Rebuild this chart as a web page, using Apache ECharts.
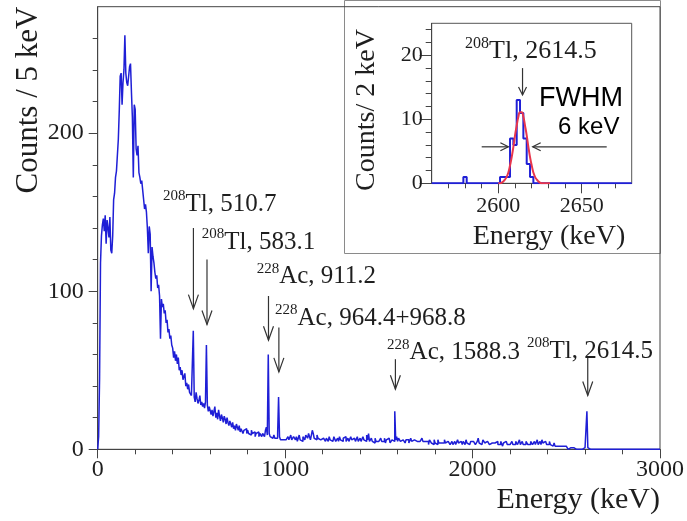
<!DOCTYPE html>
<html>
<head>
<meta charset="utf-8">
<script src="https://cdn.jsdelivr.net/npm/echarts@6/dist/echarts.min.js"></script>
<style>
  html, body { margin: 0; padding: 0; background: #fff; }
  #chart { width: 687px; height: 521px; }
</style>
</head>
<body>
<div id="chart"></div>
<script>
// ---- Spectrum: counts per 5 keV bin, bin starts at 0, 5, 10, ... keV ----
const BIN_KEV = 5;
const counts0to495 = [
  0, 8, 45, 118, 135, 142, 146, 138, 148, 130, 145, 140, 134, 147, 126, 124, 135, 158, 162, 172,
  176, 186, 196, 214, 236, 238, 218, 232, 240, 262, 238, 232, 230, 231, 242, 244, 226, 210, 172, 218,
  215, 190, 186, 192, 175, 172, 168, 170, 164, 158, 152, 155, 150, 140, 124, 141, 136, 100, 128, 122,
  118, 112, 108, 110, 102, 104, 97, 70, 95, 90, 92, 86, 88, 80, 82, 74, 76, 70, 72, 66,
  64, 58, 62, 56, 60, 54, 58, 50, 52, 47, 50, 44, 46, 48, 40, 42, 38, 41, 36, 37
];
const counts500to995 = [
  34, 35, 75, 33, 30, 36, 32, 29, 31, 34, 28, 30, 27, 29, 26, 30, 66, 28, 24, 27,
  26, 22, 25, 21, 24, 27, 20, 23, 19, 25, 21, 18, 22, 20, 17, 21, 19, 16, 20, 17,
  15, 18, 16, 14, 17, 13, 15, 12, 16, 14, 12, 15, 11, 13, 14, 10, 12, 11, 13, 10,
  12, 10, 11, 9, 12, 10, 9, 11, 8, 10, 9, 11, 8, 10, 9, 8, 10, 9, 8, 12,
  14, 9, 60, 10, 8, 9, 7, 8, 9, 7, 8, 7, 10, 33, 8, 6, 7, 6, 7, 5
];
const counts1000to1995 = [
  6, 7, 5, 8, 6, 7, 9, 6, 5, 8, 7, 6, 8, 5, 7, 9, 6, 7, 5, 8,
  7, 6, 9, 8, 7, 10, 8, 6, 9, 12, 10, 7, 8, 6, 9, 7, 8, 6, 7, 5,
  7, 6, 8, 5, 7, 6, 5, 8, 6, 7, 5, 6, 8, 7, 5, 6, 7, 5, 8, 6,
  6, 5, 7, 6, 8, 5, 6, 7, 5, 6, 8, 6, 5, 7, 6, 5, 6, 8, 5, 6,
  7, 5, 6, 8, 6, 7, 5, 9, 6, 10, 5, 6, 7, 5, 6, 4, 7, 5, 6, 5,
  6, 4, 7, 5, 6, 5, 7, 4, 6, 5, 7, 6, 4, 5, 6, 7, 5, 24, 6, 8,
  5, 7, 6, 5, 4, 6, 5, 7, 4, 6, 5, 6, 4, 5, 7, 5, 4, 6, 5, 6,
  5, 4, 6, 5, 4, 6, 7, 5, 4, 5, 6, 4, 5, 3, 6, 5, 4, 5, 3, 6,
  4, 5, 3, 6, 4, 5, 4, 3, 5, 4, 6, 4, 3, 5, 4, 5, 3, 4, 5, 3,
  4, 5, 3, 4, 6, 4, 3, 5, 4, 3, 5, 4, 3, 6, 4, 5, 3, 4, 5, 4
];
const counts2000to2995 = [
  5, 4, 6, 3, 4, 5, 7, 4, 5, 3, 4, 6, 5, 4, 3, 5, 4, 6, 3, 4,
  4, 3, 5, 4, 3, 4, 5, 3, 4, 3, 5, 4, 2, 4, 3, 5, 4, 3, 4, 3,
  3, 4, 5, 3, 4, 3, 5, 4, 3, 4, 6, 3, 4, 5, 3, 4, 3, 5, 4, 3,
  4, 3, 5, 4, 3, 4, 5, 3, 4, 6, 3, 4, 5, 3, 6, 4, 3, 5, 4, 3,
  4, 3, 5, 3, 4, 2, 3, 4, 2, 3, 2, 3, 1, 2, 2, 1, 2, 1, 1, 2,
  1, 1, 0, 1, 1, 0, 1, 1, 0, 1, 0, 1, 1, 0, 0, 1, 0, 1, 0, 1,
  0, 0, 24, 1, 0, 0, 0, 0, 0, 0, 0, 0, 0, 0, 0, 0, 0, 0, 0, 0,
  0, 0, 0, 0, 0, 0, 0, 0, 0, 0, 0, 0, 0, 0, 0, 0, 0, 0, 0, 0,
  0, 0, 0, 0, 0, 0, 0, 0, 0, 0, 0, 0, 0, 0, 0, 0, 0, 0, 0, 0,
  0, 0, 0, 0, 0, 0, 0, 0, 0, 0, 0, 0, 0, 0, 0, 0, 0, 0, 0, 0
];

// ---- Inset: 2 keV bins around the 2614.5 keV line ----
const INSET_BIN_KEV = 2;
const insetFirstBin = 2561;
const insetCounts = [
  0, 0, 0, 0, 0, 0, 0, 0, 0, 1,          // 2561 .. 2579
  0, 0, 0, 0, 0, 0, 0, 0, 0, 0,          // 2581 .. 2599
  1, 1, 1, 7, 6, 13, 11, 7, 3, 1,        // 2601 .. 2619
  0, 0, 0, 0, 0, 0, 0, 0, 0, 0,          // 2621 .. 2639
  0, 0, 0, 0, 0, 0, 0, 0, 0, 0,          // 2641 .. 2659
  0, 0, 0, 0, 0, 0, 0, 0, 0, 0           // 2661 .. 2679
];
// Gaussian fit drawn over the peak (energy keV, counts)
const fitEnergy = [2600, 2601, 2602, 2603, 2604, 2605, 2606, 2607, 2608, 2609, 2610, 2611, 2612, 2613, 2614,
  2615, 2616, 2617, 2618, 2619, 2620, 2621, 2622, 2623, 2624, 2625, 2626, 2628, 2631];
const fitCounts = [0, 0, 0.1, 0.3, 0.6, 1.0, 1.7, 2.8, 4.1, 5.7, 7.5, 9.0, 10.4, 11.1, 11.1,
  10.4, 9.0, 7.5, 5.7, 4.1, 2.8, 1.7, 1.0, 0.6, 0.3, 0.1, 0, 0, 0];

// ---- Axis ticks ----
const mainXMinorTicks = [0, 200, 400, 600, 800, 1000, 1200, 1400, 1600, 1800, 2000, 2200, 2400, 2600, 2800, 3000];
const mainXMajorTicks = [0, 1000, 2000, 3000];
const mainYMinorTicks = [0, 20, 40, 60, 80, 100, 120, 140, 160, 180, 200, 220, 240, 260];
const mainYMajorTicks = [0, 100, 200];
const insetXMinorTicks = [2570, 2580, 2590, 2600, 2610, 2620, 2630, 2640, 2650, 2660, 2670];
const insetXMajorTicks = [2600, 2650];
const insetYMinorTicks = [0, 2, 4, 6, 8, 10, 12, 14, 16, 18, 20, 22, 24];
const insetYMajorTicks = [0, 10, 20];

// ---- Line identifications ----
const lineMass = ['208', '208', '228', '228', '228', '208'];
const lineName = ['Tl, 510.7', 'Tl, 583.1', 'Ac, 911.2', 'Ac, 964.4+968.8', 'Ac, 1588.3', 'Tl, 2614.5'];
const lineEnergy = [510.7, 583.1, 911.2, 966.6, 1588.3, 2614.5];

// where each identification label and arrow sit (data units of the main plot)
const lineLayout = [
  { lx: 348,  ly: 156, top: 140, tip: 89 },
  { lx: 555,  ly: 132, top: 120, tip: 79 },
  { lx: 848,  ly: 110, top: 97,  tip: 69 },
  { lx: 946,  ly: 84,  top: 77,  tip: 49 },
  { lx: 1544, ly: 62,  top: 57,  tip: 38 },
  { lx: 2290, ly: 63,  top: 58,  tip: 34 }
];

const SERIF = 'Liberation Serif';
const SANS = 'Liberation Sans';
const BLUE = '#1f1fd6';
const RED = '#e8364c';
const INK = '#1e1e1e';

function histogram(start, width, values) {
  const pts = [];
  values.forEach((v, i) => pts.push([start + i * width, v]));
  pts.push([start + values.length * width, values[values.length - 1]]);
  return pts;
}

const mainCounts = counts0to495.concat(counts500to995, counts1000to1995, counts2000to2995);
const mainData = histogram(0, BIN_KEV, mainCounts);
const insetData = [[2560, 0]].concat(histogram(insetFirstBin, INSET_BIN_KEV, insetCounts));
insetData[insetData.length - 1][0] = 2680;
const fitData = fitEnergy.map((e, i) => [e, fitCounts[i]]);

function arrowSeries(xi, yi, segs, headLen, headHalf, lw) {
  return {
    type: 'custom', xAxisIndex: xi, yAxisIndex: yi, silent: true, z: 20, clip: false,
    data: segs,
    renderItem(params, api) {
      const a = api.coord([api.value(0), api.value(1)]);
      const b = api.coord([api.value(2), api.value(3)]);
      const dx = b[0] - a[0], dy = b[1] - a[1];
      const L = Math.hypot(dx, dy) || 1;
      const ux = dx / L, uy = dy / L, px = -uy, py = ux;
      const st = { stroke: '#333', lineWidth: lw, fill: null };
      return {
        type: 'group', children: [
          { type: 'line', shape: { x1: a[0], y1: a[1], x2: b[0], y2: b[1] }, style: st },
          { type: 'polyline', shape: { points: [
            [b[0] - ux * headLen + px * headHalf, b[1] - uy * headLen + py * headHalf],
            [b[0], b[1]],
            [b[0] - ux * headLen - px * headHalf, b[1] - uy * headLen - py * headHalf]
          ] }, style: st }
        ]
      };
    }
  };
}

function labelSeries(xi, yi, points, texts, rich, family, size) {
  return {
    type: 'custom', xAxisIndex: xi, yAxisIndex: yi, silent: true, z: 20, clip: false,
    data: points,
    renderItem(params, api) {
      const p = api.coord([api.value(0), api.value(1)]);
      return {
        type: 'text', x: p[0], y: p[1],
        style: { text: texts[params.dataIndex], rich: rich, fontFamily: family, fontSize: size,
                 align: 'left', verticalAlign: 'middle', fill: INK }
      };
    }
  };
}

const isoRich = {
  s: { fontFamily: SERIF, fontSize: 15, fill: INK, verticalAlign: 'top', lineHeight: 28 },
  m: { fontFamily: SERIF, fontSize: 25, fill: INK, verticalAlign: 'bottom', lineHeight: 28 }
};

const chart = echarts.init(document.getElementById('chart'), null, { renderer: 'canvas' });

function valueAxis(grid, pos, min, max, ticks, labels, tickLen, fontSize, margin, showLine) {
  return {
    type: 'value', gridIndex: grid, position: pos, min: min, max: max,
    splitLine: { show: false },
    axisLine: { show: showLine, onZero: false, lineStyle: { color: '#444', width: 1 } },
    axisTick: { show: true, length: tickLen, customValues: ticks, lineStyle: { color: '#444', width: 1 } },
    axisLabel: labels ? { show: true, customValues: labels, formatter: v => String(v),
                          fontFamily: SERIF, fontSize: fontSize, color: INK, margin: margin }
                      : { show: false }
  };
}

chart.setOption({
  animation: false,
  backgroundColor: '#fff',
  textStyle: { fontFamily: SERIF },
  grid: [
    { left: 97.7, top: 6.7, width: 562.3, height: 442.6, show: true, borderColor: '#444', borderWidth: 1, containLabel: false },
    { left: 431.7, top: 23.3, width: 200, height: 160, show: true, borderColor: '#555', borderWidth: 1, backgroundColor: '#fff', containLabel: false }
  ],
  xAxis: [
    valueAxis(0, 'bottom', 0, 3000, mainXMinorTicks, null, 5, 24, 8, true),
    valueAxis(0, 'bottom', 0, 3000, mainXMajorTicks, mainXMajorTicks, 9, 24, 8, false),
    valueAxis(1, 'bottom', 2560, 2680, insetXMinorTicks, null, 5, 22, 12, true),
    valueAxis(1, 'bottom', 2560, 2680, insetXMajorTicks, insetXMajorTicks, 10, 22, 12, false)
  ],
  yAxis: [
    valueAxis(0, 'left', 0, 280, mainYMinorTicks, null, 5, 24, 14, true),
    valueAxis(0, 'left', 0, 280, mainYMajorTicks, mainYMajorTicks, 9, 24, 14, false),
    valueAxis(1, 'left', 0, 25, insetYMinorTicks, null, 6, 22, 9, true),
    valueAxis(1, 'left', 0, 25, insetYMajorTicks, insetYMajorTicks, 12, 22, 9, false)
  ],
  graphic: [
    { type: 'rect', z: -1, shape: { x: 344.5, y: 0.5, width: 316, height: 253 },
      style: { fill: '#fff', stroke: '#8a8a8a', lineWidth: 1 } },
    { type: 'text', x: 29, y: 100, rotation: Math.PI / 2,
      style: { text: 'Counts / 5 keV', fontFamily: SERIF, fontSize: 31, fill: INK, align: 'center', verticalAlign: 'middle' } },
    { type: 'text', x: 660, y: 500,
      style: { text: 'Energy (keV)', fontFamily: SERIF, fontSize: 30, fill: INK, align: 'right', verticalAlign: 'middle' } },
    { type: 'text', x: 367, y: 110, rotation: Math.PI / 2,
      style: { text: 'Counts/ 2 keV', fontFamily: SERIF, fontSize: 28, fill: INK, align: 'center', verticalAlign: 'middle' } },
    { type: 'text', x: 549, y: 237,
      style: { text: 'Energy (keV)', fontFamily: SERIF, fontSize: 28, fill: INK, align: 'center', verticalAlign: 'middle' } }
  ],
  series: [
    { type: 'line', xAxisIndex: 0, yAxisIndex: 0, data: mainData, step: 'end', showSymbol: false, symbol: 'none',
      lineStyle: { color: BLUE, width: 1.5 }, z: 5, silent: true },
    { type: 'line', xAxisIndex: 2, yAxisIndex: 2, data: insetData, step: 'end', showSymbol: false, symbol: 'none',
      lineStyle: { color: BLUE, width: 2 }, z: 5, silent: true },
    { type: 'line', xAxisIndex: 2, yAxisIndex: 2, data: fitData, smooth: true, showSymbol: false, symbol: 'none',
      lineStyle: { color: RED, width: 2 }, z: 6, silent: true },
    arrowSeries(0, 0, lineEnergy.map((e, i) => [e, lineLayout[i].top, e, lineLayout[i].tip]), 14, 5, 1.2),
    labelSeries(0, 0, lineLayout.map(l => [l.lx, l.ly]),
      lineMass.map((m, i) => '{s|' + m + '}{m|' + lineName[i] + '}'), isoRich, SERIF, 25),
    // inset: peak arrow and FWHM arrows
    arrowSeries(2, 2, [[2614.5, 18, 2614.5, 13.8], [2590, 5.7, 2606, 5.7], [2665, 5.7, 2620.6, 5.7]], 8, 4, 1.2),
    labelSeries(2, 2, [[2580, 20.8]], ['{s|208}{m|Tl, 2614.5}'], {
      s: { fontFamily: SERIF, fontSize: 16, fill: INK, verticalAlign: 'top', lineHeight: 28 },
      m: { fontFamily: SERIF, fontSize: 26, fill: INK, verticalAlign: 'bottom', lineHeight: 28 }
    }, SERIF, 26),
    labelSeries(2, 2, [[2624.4, 13.3]], ['{f|FWHM}'], {
      f: { fontFamily: SANS, fontSize: 27, fill: '#000' }
    }, SANS, 27),
    labelSeries(2, 2, [[2635.8, 8.8]], ['{f|6 keV}'], {
      f: { fontFamily: SANS, fontSize: 24, fill: '#000' }
    }, SANS, 24)
  ]
});
</script>
</body>
</html>
